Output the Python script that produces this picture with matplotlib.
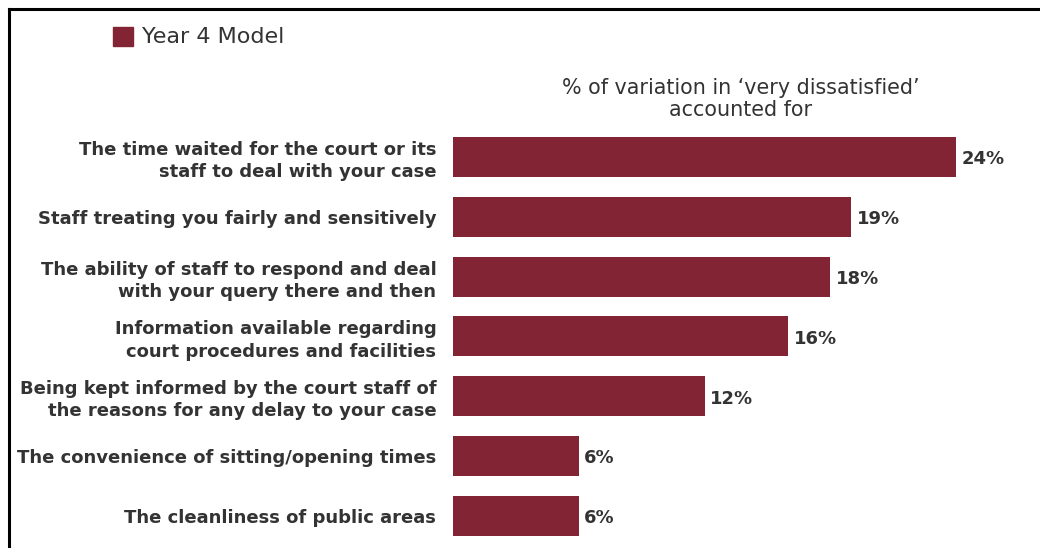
import matplotlib
matplotlib.use("Agg")
import matplotlib.pyplot as plt
from matplotlib.patches import Rectangle
from matplotlib.lines import Line2D

categories = [
    "The time waited for the court or its\nstaff to deal with your case",
    "Staff treating you fairly and sensitively",
    "The ability of staff to respond and deal\nwith your query there and then",
    "Information available regarding\ncourt procedures and facilities",
    "Being kept informed by the court staff of\nthe reasons for any delay to your case",
    "The convenience of sitting/opening times",
    "The cleanliness of public areas",
]
values = [24, 19, 18, 16, 12, 6, 6]
series_name = "Year 4 Model"
axis_title = "% of variation in \u2018very dissatisfied\u2019\naccounted for"

BAR = "#822433"
TXT = "#333333"

plt.rcParams["font.family"] = ["DejaVu Sans"]

W, H = 1040, 548
fig = plt.figure(figsize=(W / 100, H / 100), dpi=100)

# axes placed in pixel terms: x from 453, 20.96 px per percent; rows 59.8 px apart
px_per = 20.96
xmax = 27
left = 453
row = 59.8
top = 157 - row / 2
ax = fig.add_axes([left / W, 1 - (top + 7 * row) / H, xmax * px_per / W, 7 * row / H])
ypos = list(range(len(values)))
ax.barh(ypos, values, height=0.67, color=BAR, edgecolor="none")
ax.set_xlim(0, xmax)
ax.set_ylim(len(values) - 0.5, -0.5)
ax.set_yticks(ypos)
ax.set_yticklabels(categories, fontsize=13.0, fontweight="bold", color=TXT,
                   linespacing=1.3)
ax.tick_params(axis="y", length=0, pad=12)
ax.set_xticks([])
for s in ax.spines.values():
    s.set_visible(False)

for y, v in zip(ypos, values):
    ax.text(v + 0.25, y + 0.04, f"{v}%", va="center", ha="left", fontsize=13.0,
            fontweight="bold", color=TXT)

fig.text(741 / W, 1 - 99 / H, axis_title, ha="center", va="center",
         fontsize=14.9, color=TXT, linespacing=1.12)

# legend entry
fig.patches.append(Rectangle((113 / W, 1 - 46 / H), 20 / W, 19 / H,
                             transform=fig.transFigure, color=BAR))
fig.text(142 / W, 1 - 37 / H, series_name, ha="left", va="center",
         fontsize=16.0, color=TXT)

# frame lines along top and left edge
fig.lines.append(Line2D([8.5 / W, 1], [1 - 9 / H, 1 - 9 / H], transform=fig.transFigure,
                        color="black", lw=2.2))
fig.lines.append(Line2D([8.5 / W, 8.5 / W], [0, 1 - 9 / H], transform=fig.transFigure,
                        color="black", lw=2.2))

fig.savefig("out.png", dpi=100, facecolor="white")
